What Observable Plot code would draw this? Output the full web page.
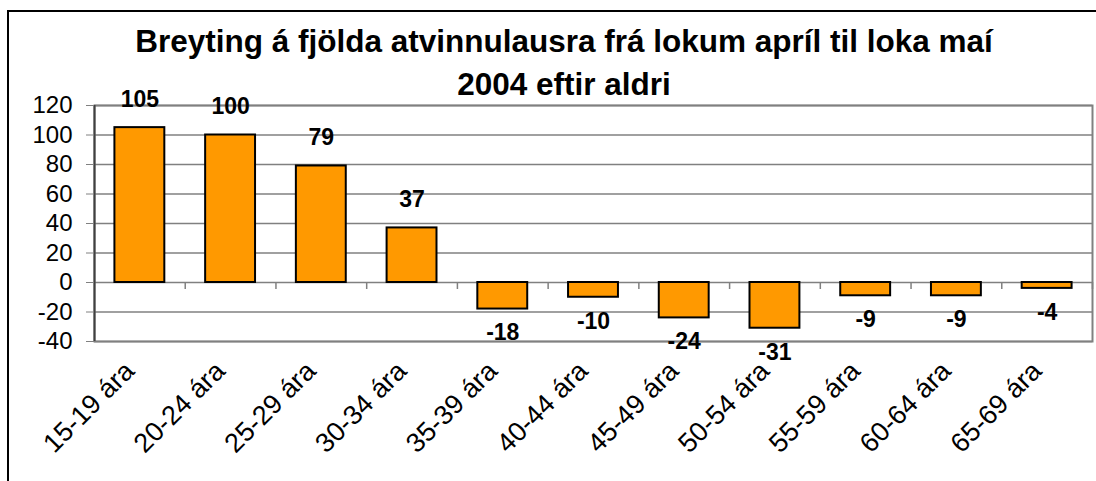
<!DOCTYPE html>
<html><head><meta charset="utf-8">
<script src="https://cdn.jsdelivr.net/npm/d3@7"></script>
<script src="https://cdn.jsdelivr.net/npm/@observablehq/plot@0.6"></script>
<style>
body{margin:0;background:#fff;}
#wrap{position:relative;width:1096px;height:481px;overflow:hidden;font-family:"Liberation Sans",Arial,sans-serif;background:#fff;}
#border{position:absolute;left:7px;top:10px;width:1200px;height:600px;border-left:2px solid #000;border-top:2px solid #000;}
#title{position:absolute;left:0;width:1128px;top:20px;text-align:center;font-weight:bold;font-size:31.5px;line-height:43px;color:#000;}
#chart{position:absolute;left:0;top:0;}
</style></head>
<body>
<div id="wrap">
  <div id="border"></div>
  <div id="chart"></div>
  <div id="title">Breyting á fjölda atvinnulausra frá lokum apríl til loka maí<br>2004 eftir aldri</div>
</div>
<script>
const categories = ["15-19 ára","20-24 ára","25-29 ára","30-34 ára","35-39 ára","40-44 ára","45-49 ára","50-54 ára","55-59 ára","60-64 ára","65-69 ára"];
const values = [105, 100, 79, 37, -18, -10, -24, -31, -9, -9, -4];
const yTicks = [-40, -20, 0, 20, 40, 60, 80, 100, 120];

const data = categories.map((c, i) => ({cat: c, value: values[i]}));
const W = 1096, H = 481, mL = 94, mR = 4, mT = 105, mB = 140;
const step = (W - mL - mR) / categories.length;
const font = "'Liberation Sans', Arial, sans-serif";

const chart = Plot.plot({
  width: W, height: H,
  marginLeft: mL, marginRight: mR, marginTop: mT, marginBottom: mB,
  style: {fontFamily: font, background: "transparent", color: "#000", overflow: "visible"},
  x: {domain: categories, paddingInner: 0.45, paddingOuter: 0.225, round: false, axis: null},
  y: {domain: [-40, 120], axis: null},
  marks: [
    Plot.ruleY(yTicks, {stroke: "#808080", strokeWidth: 1.5}),
    Plot.frame({stroke: "#808080", strokeWidth: 2}),
    Plot.ruleX(categories, {x: d => d, y1: 0, y2: -4.75, dx: step / 2, stroke: "#808080", strokeWidth: 1.5}),
    Plot.ruleX([categories[0]], {x: d => d, y1: -40, y2: 120, dx: -step / 2, stroke: "#404040", strokeWidth: 2}),
    Plot.axisY({ticks: yTicks, tickSize: 8, tickPadding: 14, fontSize: 24, label: null, stroke: "#808080", fill: "#000", tickFormat: d => String(d)}),
    Plot.barY(data, {x: "cat", y: "value", fill: "#FF9900", stroke: "#000", strokeWidth: 2}),
    Plot.text(data.filter(d => d.value >= 0), {x: "cat", y: "value", text: d => String(d.value), dy: -28, fontWeight: "bold", fontSize: 23, fill: "#000"}),
    Plot.text(data.filter(d => d.value < 0), {x: "cat", y: "value", text: d => String(d.value), dy: 24, fontWeight: "bold", fontSize: 23, fill: "#000"}),
    Plot.text(categories, {x: d => d, frameAnchor: "bottom", text: d => d, rotate: -45, textAnchor: "end", fontSize: 27, dx: -4, dy: 31, fill: "#000"})
  ]
});
document.getElementById("chart").appendChild(chart);
</script>
</body></html>
